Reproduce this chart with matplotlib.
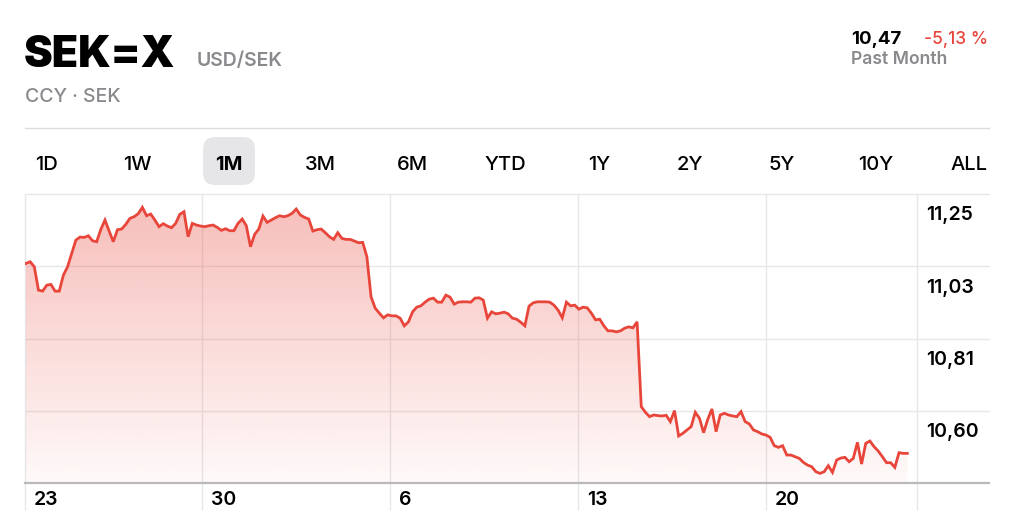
import numpy as np
import matplotlib
matplotlib.use("Agg")
import matplotlib.pyplot as plt
from matplotlib.patches import FancyBboxPatch

# ---------------- data ----------------
ticker = "SEK=X"
pair = "USD/SEK"
subtitle = "CCY · SEK"
last_price = "10,47"
change = "-5,13 %"
period_label = "Past Month"
tabs = ["1D", "1W", "1M", "3M", "6M", "YTD", "1Y", "2Y", "5Y", "10Y", "ALL"]
active_tab = "1M"
week_labels = ["23", "30", "6", "13", "20"]
y_tick_values = [11.25, 11.0333, 10.8167, 10.60]
y_tick_labels = ["11,25", "11,03", "10,81", "10,60"]

prices = [
    11.042, 11.047, 11.032, 10.962, 10.959, 10.977, 10.979, 10.959, 10.959, 11.007,
    11.032, 11.072, 11.112, 11.121, 11.120, 11.125, 11.110, 11.107, 11.144, 11.172,
    11.139, 11.107, 11.143, 11.145, 11.159, 11.177, 11.182, 11.191, 11.210, 11.185,
    11.190, 11.172, 11.152, 11.161, 11.154, 11.149, 11.162, 11.189, 11.197, 11.122,
    11.162, 11.157, 11.154, 11.152, 11.155, 11.157, 11.150, 11.141, 11.146, 11.140,
    11.140, 11.162, 11.175, 11.155, 11.092, 11.129, 11.145, 11.184, 11.165, 11.172,
    11.179, 11.185, 11.182, 11.185, 11.192, 11.205, 11.187, 11.180, 11.175, 11.139,
    11.143, 11.145, 11.134, 11.122, 11.114, 11.134, 11.117, 11.114, 11.114, 11.109,
    11.104, 11.105, 11.062, 10.942, 10.908, 10.893, 10.879, 10.888, 10.885, 10.885,
    10.878, 10.855, 10.867, 10.897, 10.911, 10.915, 10.926, 10.935, 10.938, 10.926,
    10.926, 10.947, 10.941, 10.920, 10.926, 10.927, 10.927, 10.926, 10.938, 10.939,
    10.932, 10.878, 10.897, 10.891, 10.893, 10.896, 10.891, 10.878, 10.875, 10.866,
    10.855, 10.914, 10.924, 10.927, 10.927, 10.927, 10.926, 10.917, 10.902, 10.879,
    10.926, 10.915, 10.917, 10.905, 10.911, 10.909, 10.893, 10.873, 10.875, 10.855,
    10.840, 10.840, 10.837, 10.840, 10.848, 10.852, 10.849, 10.867, 10.613, 10.596,
    10.583, 10.588, 10.586, 10.585, 10.587, 10.568, 10.601, 10.525, 10.533, 10.543,
    10.553, 10.596, 10.578, 10.535, 10.575, 10.606, 10.538, 10.588, 10.593, 10.588,
    10.585, 10.583, 10.598, 10.568, 10.561, 10.543, 10.538, 10.531, 10.528, 10.521,
    10.496, 10.491, 10.496, 10.468, 10.468, 10.463, 10.458, 10.446, 10.438, 10.433,
    10.418, 10.413, 10.418, 10.436, 10.416, 10.453, 10.459, 10.461, 10.448, 10.458,
    10.506, 10.441, 10.503, 10.510, 10.493, 10.480, 10.463, 10.445, 10.445, 10.431,
    10.475, 10.473, 10.473,
]

# sample index positions of the weekly separators (Mondays) and chart end
week_positions = [-0.24, 42.34, 87.56, 132.79, 178.0]
end_position = 214.3

# ---------------- style ----------------
RED = "#e8463b"
GRAY_TXT = "#8a8a8e"
GRID = "#e7e7e9"
FONT = ["Inter", "DejaVu Sans"]
plt.rcParams["font.family"] = FONT

W, H = 1024, 530
fig = plt.figure(figsize=(W / 100, H / 100), dpi=100)


def fx(px):
    return px / W


def fy(py):
    return 1 - py / H


# ---------------- header ----------------
fig.text(fx(24), fy(67), ticker, fontsize=31, fontweight="black", color="black", va="baseline")
fig.text(fx(197), fy(66), pair, fontsize=14, fontweight="semibold", color=GRAY_TXT, va="baseline")
fig.text(fx(25), fy(102), subtitle, fontsize=14, fontweight="medium", color=GRAY_TXT, va="baseline")
fig.text(fx(851), fy(43.5), last_price, fontsize=13.5, fontweight="bold", color="black", va="baseline")
fig.text(fx(988), fy(43.5), change, fontsize=12.5, fontweight="medium", color=RED, va="baseline", ha="right")
fig.text(fx(851), fy(64), period_label, fontsize=12.7, fontweight="semibold", color=GRAY_TXT, va="baseline")

# separator line
fig.add_artist(plt.Line2D([fx(25), fx(989)], [fy(128), fy(128)], color="#dcdcde", lw=1.0))

# ---------------- tabs ----------------
tab_centers = [46, 137, 229, 320, 412, 505, 599, 690, 782, 876, 969]
for lab, cx in zip(tabs, tab_centers):
    if lab == active_tab:
        box = FancyBboxPatch((fx(cx - 26), fy(185)), 52 / W, 48 / H,
                             boxstyle="round,pad=0,rounding_size=0.012",
                             transform=fig.transFigure, facecolor="#e6e6e9",
                             edgecolor="none", mutation_aspect=W / H)
        fig.add_artist(box)
        fig.text(fx(cx), fy(169.5), lab, fontsize=14.5, fontweight="bold", color="black",
                 ha="center", va="baseline")
    else:
        fig.text(fx(cx), fy(169.5), lab, fontsize=14.5, fontweight="medium", color="black",
                 ha="center", va="baseline")

# ---------------- chart ----------------
ax = fig.add_axes([fx(25), fy(483), (989 - 25) / W, (483 - 194) / H])
x = np.arange(len(prices))
y = np.array(prices)
ymin, ymax = 10.3842, 11.25
ax.set_xlim(-0.24, 231.65)
ax.set_ylim(ymin, ymax)
for s in ax.spines.values():
    s.set_visible(False)
ax.set_xticks([])
ax.set_yticks([])

# horizontal grid lines
for v in y_tick_values:
    ax.axhline(v, color=GRID, lw=1.0, zorder=1, clip_on=False)

# vertical week lines, extending below the axis
y_below = ymin - (27 / 289) * (ymax - ymin)
for p in week_positions + [end_position]:
    ax.vlines(p, y_below, ymax, color=GRID, lw=1.0, zorder=1, clip_on=False)

# gradient fill under the line
grad = np.linspace(0.36, 0.03, 256).reshape(-1, 1)
rgba = np.zeros((256, 1, 4))
rgba[..., 0] = 0xe8 / 255
rgba[..., 1] = 0x46 / 255
rgba[..., 2] = 0x3b / 255
rgba[..., 3] = grad
poly = ax.fill_between(x, y, ymin, color="none", lw=0)
im = ax.imshow(rgba, extent=[x[0], x[-1], ymin, ymax], aspect="auto", origin="upper",
               zorder=2, interpolation="bilinear")
im.set_clip_path(poly.get_paths()[0], transform=ax.transData)

ax.plot(x, y, color=RED, lw=2.0, zorder=4, solid_joinstyle="miter")

# bottom axis line
ax.axhline(ymin, color="#b9b9bc", lw=1.6, zorder=5, clip_on=False)

# y tick labels (below each grid line, right of the chart)
for v, lab in zip(y_tick_values, y_tick_labels):
    ax.annotate(lab, xy=(end_position, v), xytext=(9, -26.5), textcoords="offset pixels",
                fontsize=14, fontweight="semibold", color="black", va="baseline", ha="left",
                annotation_clip=False)

# x labels
for p, lab in zip(week_positions, week_labels):
    ax.annotate(lab, xy=(p, ymin), xytext=(9, -22), textcoords="offset pixels",
                fontsize=14, fontweight="semibold", color="black", va="baseline", ha="left",
                annotation_clip=False)

fig.savefig("out.png", dpi=100)
